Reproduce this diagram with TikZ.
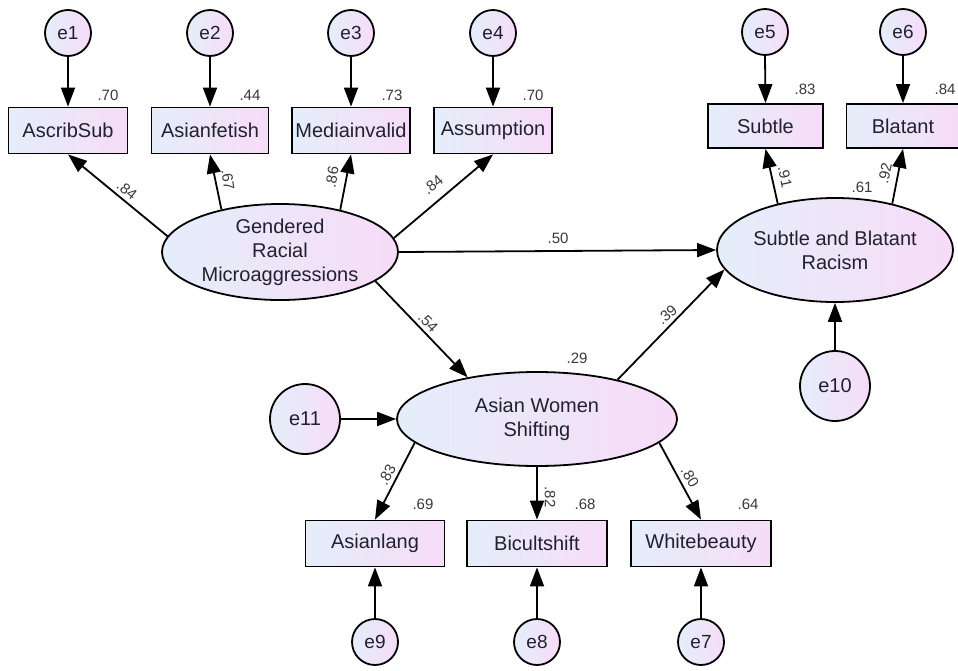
\documentclass[tikz,border=0pt]{standalone}
\usepackage{fontspec}
\setmainfont{Liberation Sans}
\usetikzlibrary{arrows.meta,shapes.geometric}
\definecolor{gl}{RGB}{228,238,250}
\definecolor{gr}{RGB}{247,220,247}
\definecolor{txt}{RGB}{34,34,46}
\begin{document}
\begin{tikzpicture}[x=1pt,y=-1pt,
  obs/.style={draw, line width=1.8pt, rectangle, left color=gl, right color=gr, minimum height=46pt, inner sep=0pt, font=\fontsize{20}{24}\selectfont, text=txt},
  lat/.style={draw, ellipse, line width=1.8pt, left color=gl, right color=gr, inner sep=0pt},
  lattext/.style={font=\fontsize{20}{24}\selectfont, text=txt, align=center, inner sep=0pt},
  err/.style={draw, circle, line width=1.8pt, left color=gl, right color=gr, inner sep=0pt, minimum size=46pt, font=\fontsize{19}{22}\selectfont, text=txt},
  bigerr/.style={err, minimum size=70pt, font=\fontsize{20}{24}\selectfont},
  lab/.style={font=\fontsize{15}{18}\selectfont, text=black!78, inner sep=0pt},
  arr/.style={-{Triangle[length=19pt,width=14pt]}, line width=1.8pt}]
\useasboundingbox (0,0) rectangle (958,670);

% observed variables (top)
\node[obs, minimum width=119pt] (b1) at (68,130.5) {AscribSub};
\node[obs, minimum width=117pt] (b2) at (210,130.5) {Asianfetish};
\node[obs, minimum width=118pt] (b3) at (351,130.5) {Mediainvalid};
\node[obs, minimum width=118pt] (b4) at (493,130.5) {Assumption};
\node[obs, minimum width=115pt, minimum height=44pt] (b5) at (765.5,126) {Subtle};
\node[obs, minimum width=113pt, minimum height=44pt] (b6) at (903,126) {Blatant};
% observed variables (bottom)
\node[obs, minimum width=139pt] (b7) at (375,543.5) {Asianlang};
\node[obs, minimum width=140pt] (b8) at (537,543.5) {Bicultshift};
\node[obs, minimum width=140pt] (b9) at (701,543.5) {Whitebeauty};

% errors
\node[err] (e1) at (68,33) {e1};
\node[err] (e2) at (210,33) {e2};
\node[err] (e3) at (351,33) {e3};
\node[err] (e4) at (493,33) {e4};
\node[err] (e5) at (765,32) {e5};
\node[err] (e6) at (903,32) {e6};
\node[err] (e9) at (375,642) {e9};
\node[err] (e8) at (537,642) {e8};
\node[err] (e7) at (701,642) {e7};
\node[bigerr] (e10) at (835,386) {e10};
\node[bigerr] (e11) at (305,419) {e11};

% latent variables
\node[lat, minimum width=236pt, minimum height=96pt] (G) at (280,252) {};
\node[lattext] (Gt) at (G) {Gendered\\Racial\\Microaggressions};
\node[lat, minimum width=236pt, minimum height=104pt] (S) at (835,250) {};
\node[lattext] (St) at (S) {Subtle and Blatant\\Racism};
\node[lat, minimum width=280pt, minimum height=94pt] (A) at (537,419) {};
\node[lattext] (At) at (A) {Asian Women\\Shifting};

% error arrows
\draw[arr] (e1.south) -- (b1.north);
\draw[arr] (e2.south) -- (b2.north);
\draw[arr] (e3.south) -- (b3.north);
\draw[arr] (e4.south) -- (b4.north);
\draw[arr] (e5.south) -- (b5.north);
\draw[arr] (e6.south) -- (b6.north);
\draw[arr] (e9.north) -- (b7.south);
\draw[arr] (e8.north) -- (b8.south);
\draw[arr] (e7.north) -- (b9.south);
\draw[arr] (e10.north) -- (S.south);
\draw[arr] (e11.east) -- (A.west);

% loadings
\draw[arr] (G.172.5) -- (b1.south);
\draw[arr] (G.144.2) -- (b2.south);
\draw[arr] (G.35.8) -- (b3.south);
\draw[arr] (G.7.5) -- (b4.south);
\draw[arr] (S.141) -- (b5.south);
\draw[arr] (S.39.5) -- (b6.south);
\draw[arr] (A.191.6) -- (b7.north);
\draw[arr] (A.south) -- (b8.north);
\draw[arr] (A.-11.6) -- (b9.north);

% structural paths
\draw[arr] (G.east) -- (S.west);
\draw[arr] (G.-17.5) -- (A.149);
\draw[arr] (A.26.8) -- (S.190);

% squared multiple correlations
\node[lab] (r1) at (108,95) {.70};
\node[lab] (r2) at (250,95) {.44};
\node[lab] (r3) at (392,95) {.73};
\node[lab] (r4) at (533,95) {.70};
\node[lab] (r5) at (805,89) {.83};
\node[lab] (r6) at (945,89) {.84};
\node[lab] (r7) at (423,504) {.69};
\node[lab] (r8) at (585,504) {.68};
\node[lab] (r9) at (748,504) {.64};
\node[lab] (rS) at (862,187) {.61};
\node[lab] (rA) at (577,358) {.29};

% path coefficients
\node[lab, rotate=-38] (c1) at (127,190) {.84};
\node[lab, rotate=-81] (c2) at (228,180) {.67};
\node[lab, rotate=80] (c3) at (332,177) {.86};
\node[lab, rotate=39] (c4) at (433,185) {.84};
\node[lab, rotate=-78] (c5) at (785,177) {.91};
\node[lab, rotate=78] (c6) at (885,173) {.92};
\node[lab] (c7) at (558,238) {.50};
\node[lab, rotate=-46] (c8) at (428,322) {.54};
\node[lab, rotate=40] (c9) at (667,315) {.39};
\node[lab, rotate=62] (c10) at (387,475) {.83};
\node[lab, rotate=-90] (c11) at (550,497) {.82};
\node[lab, rotate=-59] (c12) at (690,477) {.80};
\end{tikzpicture}
\end{document}
